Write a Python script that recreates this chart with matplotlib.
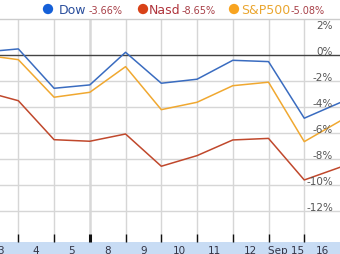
import matplotlib
matplotlib.use("Agg")
import matplotlib.pyplot as plt
import matplotlib.transforms as mtransforms
from matplotlib.patches import Rectangle

# ---- data ----
positions = [-1, 0, 1, 2, 3, 4, 5, 6, 7, 8, 9]
dow = [0.24, 0.49, -2.55, -2.29, 0.23, -2.16, -1.85, -0.39, -0.49, -4.86, -3.66]
nasd = [-2.76, -3.51, -6.52, -6.64, -6.08, -8.57, -7.75, -6.54, -6.42, -9.63, -8.65]
sp500 = [0.03, -0.34, -3.24, -2.86, -0.88, -4.20, -3.63, -2.35, -2.08, -6.67, -5.08]
day_labels = ["3", "4", "5", "8", "9", "10", "11", "12", "Sep 15", "16"]
y_ticks = [2, 0, -2, -4, -6, -8, -10, -12]
legend_names = ["Dow", "Nasd", "S&P500"]
legend_values = ["-3.66%", "-8.65%", "-5.08%"]

W, H = 340, 255
fig = plt.figure(figsize=(W / 100, H / 100), dpi=100)
fig.patch.set_facecolor("white")

# bottom band (drawn beneath everything)
fig.patches.append(Rectangle((0, 0), 1, 12 / H, transform=fig.transFigure,
                             facecolor="#c8dcf4", edgecolor="none", zorder=-5))

top_px, bot_px = 20, 243
ax = fig.add_axes([0, 1 - bot_px / H, 1, (bot_px - top_px) / H])
ax.patch.set_alpha(0)
ax.set_xlim(-0.513, 9.0)
ax.set_ylim(-14.42, 2.80)
for s in ["left", "right", "bottom"]:
    ax.spines[s].set_visible(False)
ax.spines["top"].set_color("#cccccc")
ax.spines["top"].set_linewidth(1)

# gridlines
ax.set_yticks([t for t in y_ticks if t < 0])
ax.yaxis.grid(True, color="#d6d6d6", lw=1)
ax.tick_params(axis="y", length=0, labelleft=False)
ax.axhline(0, color="#444444", lw=1, zorder=2)

major = list(range(0, 9))
ax.set_xticks(major)
ax.set_xticklabels([])
ax.xaxis.grid(True, color="#d6d6d6", lw=1)
ax.tick_params(axis="x", which="major", direction="in", length=5.8, width=1,
               color="#111111")
gl = ax.get_xgridlines()
gl[2].set_linewidth(1.8)
gl[2].set_color("#d8d8d8")
ax.xaxis.get_major_ticks()[2].tick1line.set_markeredgewidth(2.2)

ax.set_xticks([p - 0.5 for p in range(0, 10)], minor=True)
ax.set_xticklabels(day_labels, minor=True)
ax.tick_params(axis="x", which="minor", length=0, pad=2.2, labelsize=7.5,
               labelcolor="#333344")
ax.set_axisbelow(True)

# lines
ax.plot(positions, sp500, color="#f0a830", lw=1.1, zorder=3)
ax.plot(positions, nasd, color="#c0482c", lw=1.1, zorder=3)
ax.plot(positions, dow, color="#3a6cc0", lw=1.1, zorder=4)

# y labels on right, inside
trans = mtransforms.blended_transform_factory(ax.transAxes, ax.transData)
trans = mtransforms.offset_copy(trans, fig=fig, x=0, y=4, units="dots")
for t in y_ticks:
    lab = f"{t}%"
    ax.text(333 / W, t, lab, transform=trans, ha="right", va="center",
            fontsize=7.5, color="#555555", zorder=5)

# legend overlay
ov = fig.add_axes([0, 0, 1, 1], facecolor="none")
ov.set_xlim(0, W)
ov.set_ylim(H, 0)
ov.axis("off")
circle_x = [48, 143, 234]
circle_colors = ["#1560d8", "#d84218", "#f8a420"]
name_x = [59, 149, 241]
name_colors = ["#2a4e9c", "#b0343c", "#eaa630"]
val_x = [89, 182, 291]
for cx, cc, nx, nc, vx, nm, vv in zip(circle_x, circle_colors, name_x, name_colors,
                                       val_x, legend_names, legend_values):
    ov.scatter([cx], [10], s=55, color=cc, edgecolors="none")
    ov.text(nx, 10, nm, fontsize=9, color=nc, ha="left", va="center")
    ov.text(vx, 11, vv, fontsize=7, color="#a84048", ha="left", va="center")

fig.savefig("out.png", dpi=100)
